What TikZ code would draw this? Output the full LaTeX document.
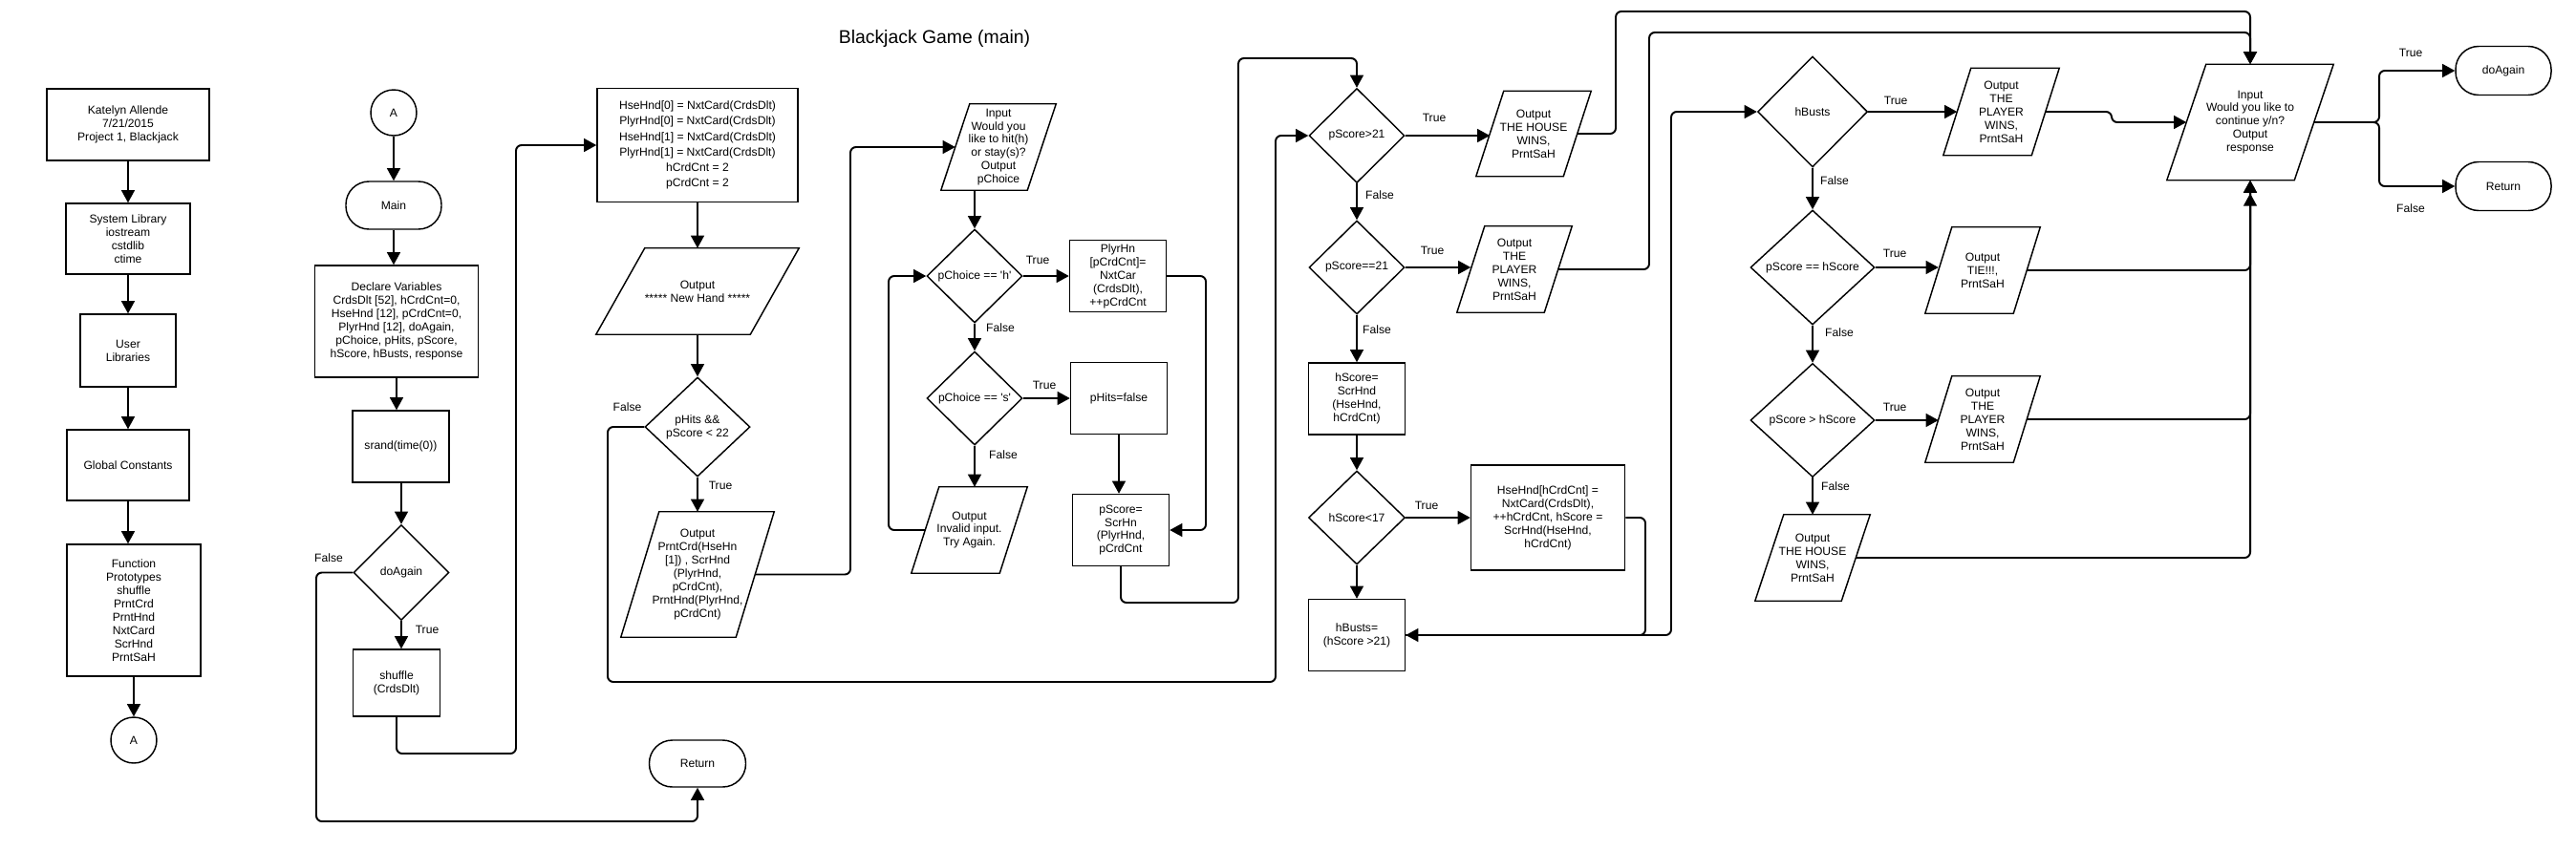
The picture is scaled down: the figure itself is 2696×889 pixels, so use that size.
\documentclass[tikz,border=0pt]{standalone}
\usepackage{fontspec}
\setmainfont{Liberation Sans}
\usetikzlibrary{shapes.geometric,arrows.meta,calc}
\newcommand\pgram[2]{%
  \draw[boxline] ($(#1.north west)+(#2,0)$) -- (#1.north east) -- ($(#1.south east)-(#2,0)$) -- (#1.south west) -- cycle;
  \coordinate (#1-l) at ($(#1.west)+(#2/2,0)$);
  \coordinate (#1-r) at ($(#1.east)-(#2/2,0)$);
}
\begin{document}
\begin{tikzpicture}[
  x=0.029cm, y=-0.029cm,
  every node/.style={font=\fontsize{10}{11.5}\selectfont, align=center, inner sep=0pt},
  boxline/.style={line width=1.2pt, line join=miter},
  sz/.style 2 args={minimum width=#1*0.029cm, minimum height=#2*0.029cm},
  proc/.style={draw, boxline, rectangle},
  term/.style={draw, boxline, rectangle, rounded corners=0.7cm},
  circ/.style={draw, boxline, circle, minimum size=48*0.029cm},
  dia/.style={draw, boxline, diamond, aspect=1},
  para/.style={rectangle, draw=none},
  lbl/.style={},
  conn/.style={line width=1.6pt, rounded corners=0.17cm, -{Triangle[length=0.38cm,width=0.4cm]}},
  ttl/.style={font=\fontsize{16}{19}\selectfont}
]
\fill[white] (0,0) rectangle (2696,889);
\useasboundingbox (0,0) rectangle (2696,889);

\node[ttl] (title) at (978,40) {Blackjack Game (main)};

% ---------- column 1
\node[proc, sz={170}{75}] (kat) at (134,130.5) {Katelyn Allende\\7/21/2015\\Project 1, Blackjack};
\node[proc, sz={130}{74}] (sys) at (134,250) {System Library\\iostream\\cstdlib\\ctime};
\node[proc, sz={100}{76}] (usr) at (134,367) {User\\Libraries};
\node[proc, sz={128}{74}] (glob) at (134,487) {Global Constants};
\node[proc, sz={140}{138}] (func) at (140,639) {Function\\Prototypes\\shuffle\\PrntCrd\\PrntHnd\\NxtCard\\ScrHnd\\PrntSaH};
\node[circ] (a1) at (140,775) {A};

% ---------- column 2
\node[circ] (a2) at (412,118) {A};
\node[term, sz={100}{50}] (main) at (412,215) {Main};
\node[proc, sz={171}{117}] (decl) at (415,336.5) {Declare Variables\\CrdsDlt [52], hCrdCnt=0,\\HseHnd [12], pCrdCnt=0,\\PlyrHnd [12], doAgain,\\pChoice, pHits, pScore,\\hScore, hBusts, response};
\node[proc, sz={101}{75}] (srand) at (419.5,467.5) {srand(time(0))};
\node[dia, sz={100}{100}] (doA) at (420,599.5) {doAgain};
\node[proc, sz={91}{70}] (shuf) at (415,715) {shuffle\\(CrdsDlt)};
\node[term, sz={101}{49}] (ret1) at (730,799.5) {Return};
\node[lbl] (lf1) at (344,584.5) {False};
\node[lbl] (lt1) at (447,659.5) {True};

% ---------- column 3
\node[proc, sz={210}{119}, font=\fontsize{10}{13.3}\selectfont] (hse) at (730,152) {HseHnd[0] = NxtCard(CrdsDlt)\\PlyrHnd[0] = NxtCard(CrdsDlt)\\HseHnd[1] = NxtCard(CrdsDlt)\\PlyrHnd[1] = NxtCard(CrdsDlt)\\hCrdCnt = 2\\pCrdCnt = 2};
\node[para, sz={212}{90}] (nh) at (730,305) {Output\\{}***** New Hand *****};
\pgram{nh}{51}
\node[dia, sz={110}{104}] (phits) at (730,447) {pHits \&\&\\pScore < 22};
\node[para, sz={160}{131}] (prnt) at (730,601.5) {Output\\PrntCrd(HseHn\\{[}1]) , ScrHnd\\(PlyrHnd,\\pCrdCnt),\\PrntHnd(PlyrHnd,\\pCrdCnt)};
\pgram{prnt}{40}
\node[lbl] (lf2) at (656.5,426) {False};
\node[lbl] (lt2) at (754,508.6) {True};

% ---------- column 3b
\node[para, sz={120}{90}] (inp1) at (1045,154) {Input\\Would you\\like to hit(h)\\or stay(s)?\\Output\\pChoice};
\pgram{inp1}{30}
\node[dia, sz={100}{98}] (ph) at (1020,289) {pChoice == \textquotesingle h\textquotesingle};
\node[proc, sz={101}{75}] (plyr) at (1170,289) {PlyrHn\\{[}pCrdCnt]=\\NxtCar\\(CrdsDlt),\\++pCrdCnt};
\node[dia, sz={100}{98}] (ps) at (1020,417) {pChoice == \textquotesingle s\textquotesingle};
\node[proc, sz={101}{75}] (phf) at (1171,417) {pHits=false};
\node[para, sz={121}{90}] (inv) at (1014.5,555) {Output\\Invalid input.\\Try Again.};
\pgram{inv}{29}
\node[proc, sz={101}{75}] (psc) at (1173,555) {pScore=\\ScrHn\\(PlyrHnd,\\pCrdCnt};
\node[lbl] (lt3) at (1086,272.5) {True};
\node[lbl] (lf3) at (1047,343.6) {False};
\node[lbl] (lt4) at (1093,403.6) {True};
\node[lbl] (lf4) at (1050,475.7) {False};

% ---------- column 4
\node[dia, sz={100}{99}] (ps21) at (1420,142) {pScore>21};
\node[para, sz={120}{89}] (h1) at (1605,140) {Output\\THE HOUSE\\WINS,\\PrntSaH};
\pgram{h1}{29}
\node[dia, sz={100}{98}] (pseq21) at (1420,280) {pScore==21};
\node[para, sz={120}{90}] (p1) at (1585,282) {Output\\THE\\PLAYER\\WINS,\\PrntSaH};
\pgram{p1}{29}
\node[proc, sz={101}{75}] (hsc) at (1420,417.5) {hScore=\\ScrHnd\\(HseHnd,\\hCrdCnt)};
\node[dia, sz={101}{98}] (h17) at (1420,542) {hScore<17};
\node[proc, sz={161}{110}] (hh) at (1620,542) {HseHnd[hCrdCnt] =\\NxtCard(CrdsDlt),\\++hCrdCnt, hScore =\\ScrHnd(HseHnd,\\hCrdCnt)};
\node[proc, sz={101}{75}] (hb) at (1420,665) {hBusts=\\(hScore >21)};
\node[lbl] (lt5) at (1501,123.7) {True};
\node[lbl] (lf5) at (1444,204) {False};
\node[lbl] (lt6) at (1499,262) {True};
\node[lbl] (lf6) at (1441,345) {False};
\node[lbl] (lt7) at (1493,529) {True};

% ---------- column 5
\node[dia, sz={115}{116}] (hbd) at (1897,117) {hBusts};
\node[para, sz={121}{91}] (p2) at (2094.5,117) {Output\\THE\\PLAYER\\WINS,\\PrntSaH};
\pgram{p2}{29}
\node[dia, sz={130}{120}] (pseq) at (1897,280) {pScore == hScore};
\node[para, sz={120}{90}] (tie) at (2075,283) {Output\\TIE!!!,\\PrntSaH};
\pgram{tie}{28}
\node[dia, sz={130}{119}] (psgt) at (1897,440) {pScore > hScore};
\node[para, sz={120}{90}] (p3) at (2075,439) {Output\\THE\\PLAYER\\WINS,\\PrntSaH};
\pgram{p3}{28}
\node[para, sz={120}{90}] (h2) at (1897,584) {Output\\THE HOUSE\\WINS,\\PrntSaH};
\pgram{h2}{30}
\node[para, sz={174}{121}] (inp2) at (2355,128) {Input\\Would you like to\\continue y/n?\\Output\\response};
\pgram{inp2}{41}
\node[term, sz={100}{51}] (da2) at (2620,74) {doAgain};
\node[term, sz={100}{51}] (ret2) at (2620,195) {Return};
\node[lbl] (lt8) at (1984,105) {True};
\node[lbl] (lf8) at (1920,188.7) {False};
\node[lbl] (lt9) at (1983,265.6) {True};
\node[lbl] (lf9) at (1925,348) {False};
\node[lbl] (lt10) at (1983,426.7) {True};
\node[lbl] (lf10) at (1921,509) {False};
\node[lbl] (lt11) at (2523,55) {True};
\node[lbl] (lf11) at (2523,218) {False};

% ---------- connectors
\draw[conn] (kat) -- (sys);
\draw[conn] (sys) -- (usr);
\draw[conn] (usr) -- (glob);
\draw[conn] (glob.south) -- (glob.south |- func.north);
\draw[conn] (func) -- (a1);

\draw[conn] (a2) -- (main);
\draw[conn] (main.south) -- (main.south |- decl.north);
\draw[conn] (decl.south) -- (decl.south |- srand.north);
\draw[conn] (doA.north |- srand.south) -- (doA.north);
\draw[conn] (doA.south) -- (doA.south |- shuf.north);
\draw[conn] (shuf.south) |- (540,789) |- (hse.west);
\draw[conn] (doA.west) -| (331,860) -| (ret1.south);

\draw[conn] (hse) -- (nh);
\draw[conn] (nh) -- (phits);
\draw[conn] (phits) -- (prnt);
\draw[conn] (phits.west) -| (636,714) -| (1335,142) -- (ps21.west);
\draw[conn] (prnt-r) -| (890,154) -- (inp1-l);

\draw[conn] (ph.north |- inp1.south) -- (ph.north);
\draw[conn] (ph) -- (plyr);
\draw[conn] (ph) -- (ps);
\draw[conn] (ps) -- (phf);
\draw[conn] (ps.south) -- (ps.south |- inv.north);
\draw[conn] (inv-l) -| (930,289) -- (ph.west);
\draw[conn] (plyr.east) -| (1262,555) -- (psc.east);
\draw[conn] (phf.south) -- (phf.south |- psc.north);
\draw[conn] (psc.south) |- (1296,631) |- (1420,61) -- (ps21.north);

\draw[conn] (ps21.east) -- (ps21.east -| h1-l);
\draw[conn] (h1-r) -| (1691,12) -| (inp2.north);
\draw[conn] (ps21) -- (pseq21);
\draw[conn] (pseq21.east) -- (pseq21.east -| p1-l);
\draw[conn] (p1-r) -| (1726,34) -| (inp2.north);
\draw[conn] (pseq21) -- (hsc);
\draw[conn] (hsc) -- (h17);
\draw[conn] (h17) -- (hh);
\draw[conn] (h17) -- (hb);
\draw[conn] (hh.east) -| (1722,665) -- (hb.east);
\draw[conn] (hb.east) -| (1749,117) -- (hbd.west);

\draw[conn] (hbd.east) -- (p2-l);
\draw[conn] (p2-r) -| (2210,128) -- (inp2-l);
\draw[conn] (hbd) -- (pseq);
\draw[conn] (pseq.east) -- (pseq.east -| tie-l);
\draw[conn] (tie-r) -| (inp2.south);
\draw[conn] (pseq) -- (psgt);
\draw[conn] (psgt.east) -- (psgt.east -| p3-l);
\draw[conn] (p3-r) -| (inp2.south);
\draw[conn] (psgt) -- (h2);
\draw[conn, shorten >=0.4cm] (h2-r) -| (inp2.south);
\draw[conn] (inp2-r) -| (2490,74) -- (da2.west);
\draw[conn] (inp2-r) -| (2490,195) -- (ret2.west);
\end{tikzpicture}
\end{document}
